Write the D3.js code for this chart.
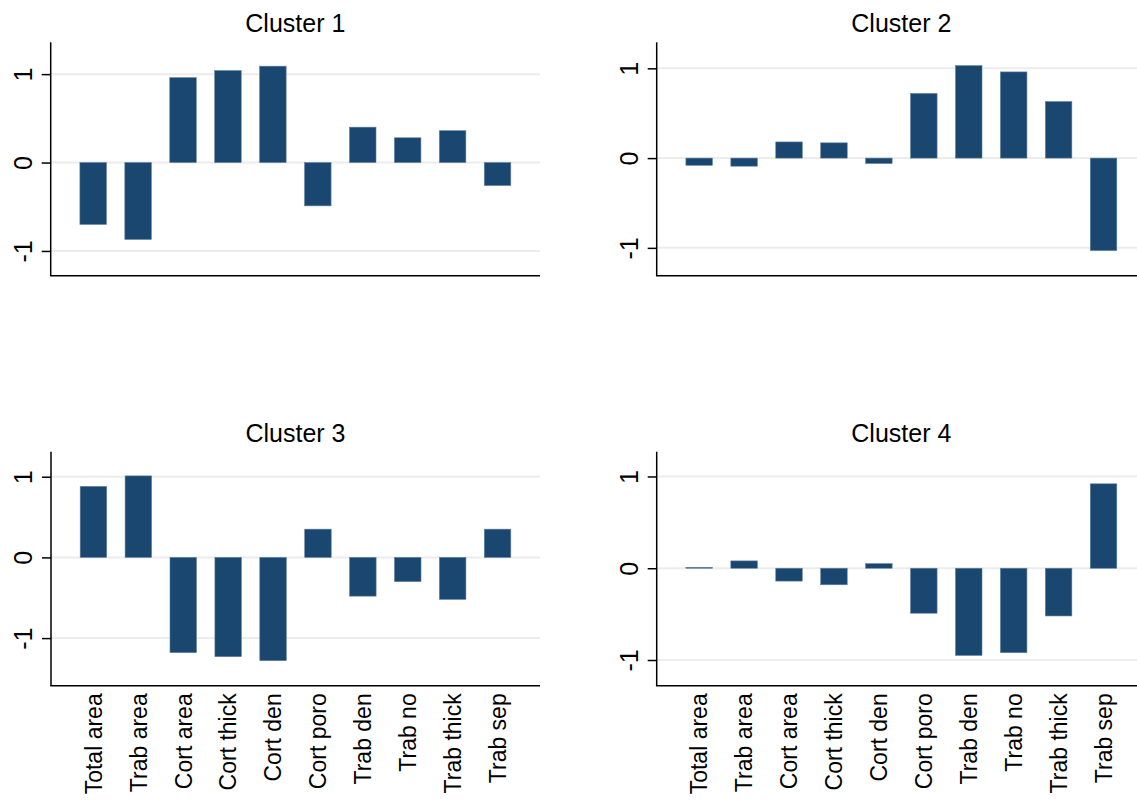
<!DOCTYPE html>
<html>
<head>
<meta charset="utf-8">
<script src="https://cdn.jsdelivr.net/npm/d3@7"></script>
<style>
  html, body { margin: 0; padding: 0; background: #fff; overflow: hidden; }
  svg { display: block; }
  text { font-family: "Liberation Sans", Arial, Helvetica, sans-serif; fill: #000; }
</style>
</head>
<body>
<svg id="chart" width="1137" height="807"></svg>
<script>
// ---- data ----
const categories = ["Total area", "Trab area", "Cort area", "Cort thick", "Cort den",
                    "Cort poro", "Trab den", "Trab no", "Trab thick", "Trab sep"];
const titles = ["Cluster 1", "Cluster 2", "Cluster 3", "Cluster 4"];
const cluster1 = [-0.70, -0.87, 0.96, 1.04, 1.09, -0.49, 0.40, 0.28, 0.36, -0.26];
const cluster2 = [-0.08, -0.09, 0.18, 0.17, -0.06, 0.72, 1.03, 0.96, 0.63, -1.03];
const cluster3 = [0.88, 1.01, -1.18, -1.23, -1.28, 0.35, -0.48, -0.30, -0.52, 0.35];
const cluster4 = [0.01, 0.08, -0.14, -0.18, 0.05, -0.49, -0.95, -0.92, -0.52, 0.92];
const yTicks = [-1, 0, 1];
const yTickLabels = ["-1", "0", "1"];
const yDomains = [[-1.28, 1.36], [-1.31, 1.29], [-1.59, 1.31], [-1.28, 1.27]];

const series = [cluster1, cluster2, cluster3, cluster4];

// ---- layout ----
const panels = [
  { x0: 50.7,  x1: 540,  y0: 42.3,  y1: 275.7, titleY: 32,    labels: false },
  { x0: 656.7, x1: 1146, y0: 42.3,  y1: 275.7, titleY: 32,    labels: false },
  { x0: 51,    x1: 540,  y0: 451.7, y1: 685.7, titleY: 441.5, labels: true },
  { x0: 656.7, x1: 1146, y0: 451.7, y1: 685.7, titleY: 441.5, labels: true }
];

const barColor = "#1a476f";
const svg = d3.select("#chart");

panels.forEach((p, i) => {
  const g = svg.append("g");
  const data = series[i];

  const x = d3.scaleBand()
    .domain(categories)
    .range([p.x0, p.x1])
    .paddingInner(0.41)
    .paddingOuter(0.65);

  const y = d3.scaleLinear()
    .domain(yDomains[i])
    .range([p.y1, p.y0]);

  // gridlines
  g.append("g").selectAll("line")
    .data(yTicks)
    .join("line")
    .attr("x1", p.x0).attr("x2", p.x1)
    .attr("y1", d => y(d)).attr("y2", d => y(d))
    .attr("stroke", "#ececec")
    .attr("stroke-width", 2);

  // bars
  g.append("g").selectAll("rect")
    .data(data.map((v, k) => ({ cat: categories[k], v })))
    .join("rect")
    .attr("x", d => x(d.cat))
    .attr("width", x.bandwidth())
    .attr("y", d => y(Math.max(0, d.v)))
    .attr("height", d => Math.abs(y(d.v) - y(0)))
    .attr("fill", barColor)
    .attr("stroke", "#5f7e9e")
    .attr("stroke-width", 0.6);

  // y axis
  const yAxis = d3.axisLeft(y).tickValues(yTicks).tickSize(9)
    .tickFormat((d, k) => yTickLabels[k]);
  const ya = g.append("g")
    .attr("transform", `translate(${p.x0},0)`)
    .call(yAxis);
  ya.select(".domain").remove();
  ya.selectAll(".tick line").attr("stroke", "#000").attr("stroke-width", 1.5);
  ya.selectAll(".tick text")
    .attr("x", null).attr("dy", null)
    .attr("text-anchor", "middle")
    .attr("transform", "translate(-19,0) rotate(-90)")
    .style("font-size", "25px")
    .style("font-family", "\"Liberation Sans\", Arial, Helvetica, sans-serif")
    .attr("fill", "#000");

  // axis lines
  g.append("line")
    .attr("x1", p.x0).attr("x2", p.x0)
    .attr("y1", p.y0).attr("y2", p.y1)
    .attr("stroke", "#000").attr("stroke-width", 1.5);
  g.append("line")
    .attr("x1", p.x0 - 0.75).attr("x2", p.x1)
    .attr("y1", p.y1).attr("y2", p.y1)
    .attr("stroke", "#000").attr("stroke-width", 1.5);

  // title
  g.append("text")
    .attr("x", (p.x0 + p.x1) / 2)
    .attr("y", p.titleY)
    .attr("text-anchor", "middle")
    .style("font-size", "25px")
    .text(titles[i]);

  // x labels
  if (p.labels) {
    g.append("g").selectAll("text")
      .data(categories)
      .join("text")
      .attr("transform", d => `translate(${x(d) + x.bandwidth() / 2},${p.y1 + 7.6}) rotate(-90)`)
      .attr("text-anchor", "end")
      .attr("dy", "0.36em")
      .style("font-size", "23px")
      .text(d => d);
  }
});
</script>
</body>
</html>
